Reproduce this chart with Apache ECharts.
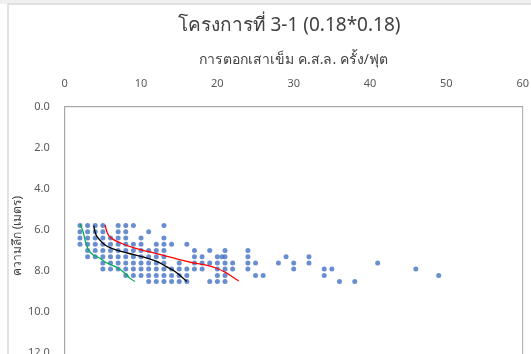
<!DOCTYPE html>
<html>
<head>
<meta charset="utf-8">
<script src="https://cdn.jsdelivr.net/npm/echarts@6/dist/echarts.min.js"></script>
<style>
html,body{margin:0;padding:0;background:#fff;}
#c{width:531px;height:354px;}
</style>
</head>
<body>
<div id="c"></div>
<script>
// depth rows (m) — 1 ft steps
const depthLevels = [5.79, 6.10, 6.40, 6.71, 7.01, 7.32, 7.62, 7.92, 8.23, 8.53];
// blow counts (blows/ft) found at each depth row
const row1 = [2, 3, 4, 5, 7, 8, 9, 13];
const row2 = [2, 3, 4, 5, 7, 8, 11];
const row3 = [2, 3, 4, 5, 6, 7, 8, 10, 13];
const row4 = [2, 3, 4, 5, 6, 7, 8, 9, 10, 12, 13, 14, 16];
const row5 = [3, 4, 5, 6, 7, 8, 9, 10, 11, 12, 13, 17, 19, 21, 24];
const row6 = [3, 4, 5, 6, 7, 8, 9, 10, 11, 12, 13, 17, 18, 20, 20.6, 21, 24, 29, 32];
const row7 = [5, 6, 7, 8, 9, 10, 11, 12, 13, 15, 17, 18, 19, 20, 21, 22, 24, 25, 28, 30, 32, 41];
const row8 = [5, 6, 7, 8, 9, 10, 11, 12, 13, 14, 15, 16, 17, 18, 20, 21, 22, 24, 30, 34, 35, 46];
const row9 = [8, 9, 10, 11, 12, 13, 14, 15, 16, 20, 21, 25, 26, 34, 49];
const row10 = [11, 12, 13, 14, 15, 16, 19, 20, 21, 36, 38];
const rows = [row1, row2, row3, row4, row5, row6, row7, row8, row9, row10];

// trend curves
const greenX = [2.0, 2.4, 2.7, 3.1, 3.7, 4.6, 5.2, 6.1, 7.0, 7.9, 8.5, 9.2];
const greenDepth = [5.72, 6.09, 6.55, 6.97, 7.22, 7.39, 7.55, 7.72, 7.88, 8.12, 8.35, 8.53];
const blackX = [3.8, 4.1, 4.6, 5.2, 6.1, 7.4, 9.2, 10.9, 12.2, 13.3, 14.5, 15.3, 16.0];
const blackDepth = [5.8, 6.25, 6.5, 6.72, 6.9, 7.06, 7.23, 7.4, 7.57, 7.8, 8.05, 8.3, 8.53];
const redX = [5.3, 5.6, 6.1, 7.4, 9.2, 10.9, 12.7, 14.9, 16.6, 18.4, 19.9, 21.0, 21.9, 22.8];
const redDepth = [5.76, 6.17, 6.41, 6.66, 6.9, 7.06, 7.23, 7.45, 7.6, 7.72, 7.88, 8.07, 8.28, 8.5];

const xTicks = [0, 10, 20, 30, 40, 50, 60];
const yTicks = [0, 2, 4, 6, 8, 10, 12, 14];

const titleText = 'โครงการที่ 3-1 (0.18*0.18)';
const xName = 'การตอกเสาเข็ม ค.ส.ล. ครั้ง/ฟุต';
const yName = 'ความลึก (เมตร)';

const pts = [];
rows.forEach((r, i) => r.forEach(v => pts.push([v, depthLevels[i]])));
const zip = (a, b) => a.map((v, i) => [v, b[i]]);

const FONT = "Tahoma, 'Noto Sans', 'DejaVu Sans', sans-serif";
const chart = echarts.init(document.getElementById('c'), null, {renderer: 'canvas'});
chart.setOption({
  animation: false,
  backgroundColor: '#fff',
  title: {
    text: titleText, left: 284, top: 11, textAlign: 'center',
    textStyle: {fontFamily: FONT, fontSize: 19, fontWeight: 'normal', color: '#404040'}
  },
  graphic: [
    {type: 'rect', shape: {x: 0, y: 0, width: 531, height: 4}, style: {fill: '#f0f0f0'}, silent: true},
    {type: 'rect', shape: {x: 8, y: 4, width: 560, height: 400}, style: {fill: 'none', stroke: '#d9d9d9', lineWidth: 1.5}, silent: true},
    {type: 'text', left: 12, top: 196, rotation: Math.PI / 2,
     style: {text: yName, font: "12px " + FONT, fill: '#404040'}, silent: true}
  ],
  grid: {left: 64.7, top: 106.7, width: 458, height: 287, show: true, borderColor: '#a6a6a6', borderWidth: 1,
         containLabel: false, outerBoundsMode: 'none'},
  xAxis: {
    type: 'value', position: 'top', min: xTicks[0], max: xTicks[xTicks.length - 1], interval: 10,
    name: xName, nameLocation: 'middle', nameGap: 40,
    nameTextStyle: {fontFamily: FONT, fontSize: 14, color: '#404040'},
    axisLine: {show: true, lineStyle: {color: '#a6a6a6'}}, axisTick: {show: false},
    splitLine: {show: false},
    axisLabel: {fontFamily: FONT, fontSize: 11, color: '#595959', margin: 17}
  },
  yAxis: {
    type: 'value', inverse: true, min: yTicks[0], max: yTicks[yTicks.length - 1], interval: 2,
    axisLine: {show: true, lineStyle: {color: '#a6a6a6'}}, axisTick: {show: false},
    splitLine: {show: false},
    axisLabel: {fontFamily: FONT, fontSize: 11, color: '#595959', margin: 15, formatter: v => v.toFixed(1)}
  },
  series: [
    {type: 'scatter', data: pts, symbolSize: 5, itemStyle: {color: '#4472c4'}, z: 2},
    {type: 'line', data: zip(greenX, greenDepth), smooth: 0.4, showSymbol: false, lineStyle: {color: '#00b050', width: 1.3}, z: 3},
    {type: 'line', data: zip(blackX, blackDepth), smooth: 0.4, showSymbol: false, lineStyle: {color: '#000000', width: 1.3}, z: 3},
    {type: 'line', data: zip(redX, redDepth), smooth: 0.4, showSymbol: false, lineStyle: {color: '#ff0000', width: 1.3}, z: 3}
  ]
});
</script>
</body>
</html>
